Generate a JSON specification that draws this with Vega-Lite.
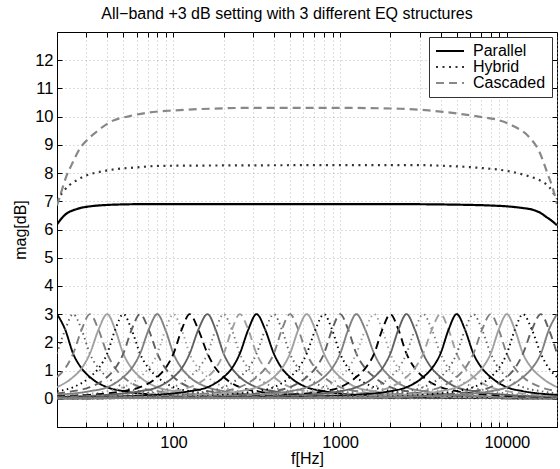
{
  "$schema": "https://vega.github.io/schema/vega-lite/v6.json",
  "width": 500,
  "height": 395,
  "autosize": {"type": "none"},
  "padding": {"left": 57, "top": 32, "right": 3, "bottom": 42},
  "background": "#ffffff",
  "config": {
    "font": "Liberation Sans",
    "view": {"stroke": "#000000", "strokeWidth": 1},
    "axis": {
      "labelFontSize": 16, "titleFontSize": 16, "titleFontWeight": "normal",
      "labelColor": "#000000", "titleColor": "#000000", "tickColor": "#000000",
      "domainColor": "#000000", "gridColor": "#a8a8a8", "gridDash": [1, 3], "gridWidth": 0.8,
      "tickSize": -5, "labelOverlap": false, "labelFlush": false
    }
  },
  "title": {"text": "All−band +3 dB setting with 3 different EQ structures", "fontSize": 16, "fontWeight": "normal", "offset": 10, "dx": -20, "color": "#000000"},
  "datasets": {
    "bells": [
      {"b":0,"f":20,"v":3},{"b":0,"f":22.4,"v":2.45},{"b":0,"f":25,"v":1.6},{"b":0,"f":28.1,"v":1.08},{"b":0,"f":31.5,"v":0.77},{"b":0,"f":40,"v":0.41},{"b":0,"f":50,"v":0.27},{"b":0,"f":80,"v":0.14},{"b":0,"f":160,"v":0.07},{"b":0,"f":500,"v":0.035},{"b":0,"f":20000,"v":0.02},
      {"b":1,"f":20,"v":1.6},{"b":1,"f":22.4,"v":2.45},{"b":1,"f":25,"v":3},{"b":1,"f":28.1,"v":2.45},{"b":1,"f":31.5,"v":1.6},{"b":1,"f":35.5,"v":1.08},{"b":1,"f":40,"v":0.77},{"b":1,"f":50,"v":0.41},{"b":1,"f":63,"v":0.27},{"b":1,"f":100,"v":0.14},{"b":1,"f":200,"v":0.07},{"b":1,"f":630,"v":0.035},{"b":1,"f":20000,"v":0.02},
      {"b":2,"f":20,"v":0.77},{"b":2,"f":22.4,"v":1.08},{"b":2,"f":25,"v":1.6},{"b":2,"f":28.1,"v":2.45},{"b":2,"f":31.5,"v":3},{"b":2,"f":35.5,"v":2.45},{"b":2,"f":40,"v":1.6},{"b":2,"f":44.7,"v":1.08},{"b":2,"f":50,"v":0.77},{"b":2,"f":63,"v":0.41},{"b":2,"f":80,"v":0.27},{"b":2,"f":125,"v":0.14},{"b":2,"f":250,"v":0.07},{"b":2,"f":800,"v":0.035},{"b":2,"f":20000,"v":0.02},
      {"b":3,"f":20,"v":0.41},{"b":3,"f":25,"v":0.77},{"b":3,"f":28.1,"v":1.08},{"b":3,"f":31.5,"v":1.6},{"b":3,"f":35.5,"v":2.45},{"b":3,"f":40,"v":3},{"b":3,"f":44.7,"v":2.45},{"b":3,"f":50,"v":1.6},{"b":3,"f":56.1,"v":1.08},{"b":3,"f":63,"v":0.77},{"b":3,"f":80,"v":0.41},{"b":3,"f":100,"v":0.27},{"b":3,"f":160,"v":0.14},{"b":3,"f":315,"v":0.07},{"b":3,"f":1000,"v":0.035},{"b":3,"f":20000,"v":0.02},
      {"b":4,"f":20,"v":0.27},{"b":4,"f":25,"v":0.41},{"b":4,"f":31.5,"v":0.77},{"b":4,"f":35.5,"v":1.08},{"b":4,"f":40,"v":1.6},{"b":4,"f":44.7,"v":2.45},{"b":4,"f":50,"v":3},{"b":4,"f":56.1,"v":2.45},{"b":4,"f":63,"v":1.6},{"b":4,"f":71,"v":1.08},{"b":4,"f":80,"v":0.77},{"b":4,"f":100,"v":0.41},{"b":4,"f":125,"v":0.27},{"b":4,"f":200,"v":0.14},{"b":4,"f":400,"v":0.07},{"b":4,"f":1250,"v":0.035},{"b":4,"f":20000,"v":0.02},
      {"b":5,"f":20,"v":0.19},{"b":5,"f":25,"v":0.27},{"b":5,"f":31.5,"v":0.41},{"b":5,"f":40,"v":0.77},{"b":5,"f":44.7,"v":1.08},{"b":5,"f":50,"v":1.6},{"b":5,"f":56.1,"v":2.45},{"b":5,"f":63,"v":3},{"b":5,"f":71,"v":2.45},{"b":5,"f":80,"v":1.6},{"b":5,"f":89.4,"v":1.08},{"b":5,"f":100,"v":0.77},{"b":5,"f":125,"v":0.41},{"b":5,"f":160,"v":0.27},{"b":5,"f":250,"v":0.14},{"b":5,"f":500,"v":0.07},{"b":5,"f":1600,"v":0.035},{"b":5,"f":20000,"v":0.02},
      {"b":6,"f":20,"v":0.14},{"b":6,"f":31.5,"v":0.27},{"b":6,"f":40,"v":0.41},{"b":6,"f":50,"v":0.77},{"b":6,"f":56.1,"v":1.08},{"b":6,"f":63,"v":1.6},{"b":6,"f":71,"v":2.45},{"b":6,"f":80,"v":3},{"b":6,"f":89.4,"v":2.45},{"b":6,"f":100,"v":1.6},{"b":6,"f":112,"v":1.08},{"b":6,"f":125,"v":0.77},{"b":6,"f":160,"v":0.41},{"b":6,"f":200,"v":0.27},{"b":6,"f":315,"v":0.14},{"b":6,"f":630,"v":0.07},{"b":6,"f":2000,"v":0.035},{"b":6,"f":20000,"v":0.02},
      {"b":7,"f":20,"v":0.11},{"b":7,"f":25,"v":0.14},{"b":7,"f":40,"v":0.27},{"b":7,"f":50,"v":0.41},{"b":7,"f":63,"v":0.77},{"b":7,"f":71,"v":1.08},{"b":7,"f":80,"v":1.6},{"b":7,"f":89.4,"v":2.45},{"b":7,"f":100,"v":3},{"b":7,"f":112,"v":2.45},{"b":7,"f":125,"v":1.6},{"b":7,"f":141,"v":1.08},{"b":7,"f":160,"v":0.77},{"b":7,"f":200,"v":0.41},{"b":7,"f":250,"v":0.27},{"b":7,"f":400,"v":0.14},{"b":7,"f":800,"v":0.07},{"b":7,"f":2500,"v":0.035},{"b":7,"f":20000,"v":0.02},
      {"b":8,"f":20,"v":0.09},{"b":8,"f":31.5,"v":0.14},{"b":8,"f":50,"v":0.27},{"b":8,"f":63,"v":0.41},{"b":8,"f":80,"v":0.77},{"b":8,"f":89.4,"v":1.08},{"b":8,"f":100,"v":1.6},{"b":8,"f":112,"v":2.45},{"b":8,"f":125,"v":3},{"b":8,"f":141,"v":2.45},{"b":8,"f":160,"v":1.6},{"b":8,"f":179,"v":1.08},{"b":8,"f":200,"v":0.77},{"b":8,"f":250,"v":0.41},{"b":8,"f":315,"v":0.27},{"b":8,"f":500,"v":0.14},{"b":8,"f":1000,"v":0.07},{"b":8,"f":3150,"v":0.035},{"b":8,"f":20000,"v":0.025},
      {"b":9,"f":20,"v":0.07},{"b":9,"f":40,"v":0.14},{"b":9,"f":63,"v":0.27},{"b":9,"f":80,"v":0.41},{"b":9,"f":100,"v":0.77},{"b":9,"f":112,"v":1.08},{"b":9,"f":125,"v":1.6},{"b":9,"f":141,"v":2.45},{"b":9,"f":160,"v":3},{"b":9,"f":179,"v":2.45},{"b":9,"f":200,"v":1.6},{"b":9,"f":224,"v":1.08},{"b":9,"f":250,"v":0.77},{"b":9,"f":315,"v":0.41},{"b":9,"f":400,"v":0.27},{"b":9,"f":630,"v":0.14},{"b":9,"f":1250,"v":0.07},{"b":9,"f":4000,"v":0.035},{"b":9,"f":20000,"v":0.025},
      {"b":10,"f":20,"v":0.06},{"b":10,"f":25,"v":0.07},{"b":10,"f":50,"v":0.14},{"b":10,"f":80,"v":0.27},{"b":10,"f":100,"v":0.41},{"b":10,"f":125,"v":0.77},{"b":10,"f":141,"v":1.08},{"b":10,"f":160,"v":1.6},{"b":10,"f":179,"v":2.45},{"b":10,"f":200,"v":3},{"b":10,"f":224,"v":2.45},{"b":10,"f":250,"v":1.6},{"b":10,"f":281,"v":1.08},{"b":10,"f":315,"v":0.77},{"b":10,"f":400,"v":0.41},{"b":10,"f":500,"v":0.27},{"b":10,"f":800,"v":0.14},{"b":10,"f":1600,"v":0.07},{"b":10,"f":5000,"v":0.035},{"b":10,"f":20000,"v":0.025},
      {"b":11,"f":20,"v":0.05},{"b":11,"f":31.5,"v":0.07},{"b":11,"f":63,"v":0.14},{"b":11,"f":100,"v":0.27},{"b":11,"f":125,"v":0.41},{"b":11,"f":160,"v":0.77},{"b":11,"f":179,"v":1.08},{"b":11,"f":200,"v":1.6},{"b":11,"f":224,"v":2.45},{"b":11,"f":250,"v":3},{"b":11,"f":281,"v":2.45},{"b":11,"f":315,"v":1.6},{"b":11,"f":355,"v":1.08},{"b":11,"f":400,"v":0.77},{"b":11,"f":500,"v":0.41},{"b":11,"f":630,"v":0.27},{"b":11,"f":1000,"v":0.14},{"b":11,"f":2000,"v":0.07},{"b":11,"f":6300,"v":0.035},{"b":11,"f":20000,"v":0.025},
      {"b":12,"f":20,"v":0.045},{"b":12,"f":40,"v":0.07},{"b":12,"f":80,"v":0.14},{"b":12,"f":125,"v":0.27},{"b":12,"f":160,"v":0.41},{"b":12,"f":200,"v":0.77},{"b":12,"f":224,"v":1.08},{"b":12,"f":250,"v":1.6},{"b":12,"f":281,"v":2.45},{"b":12,"f":315,"v":3},{"b":12,"f":355,"v":2.45},{"b":12,"f":400,"v":1.6},{"b":12,"f":447,"v":1.08},{"b":12,"f":500,"v":0.77},{"b":12,"f":630,"v":0.41},{"b":12,"f":800,"v":0.27},{"b":12,"f":1250,"v":0.14},{"b":12,"f":2500,"v":0.07},{"b":12,"f":8000,"v":0.035},{"b":12,"f":20000,"v":0.025},
      {"b":13,"f":20,"v":0.04},{"b":13,"f":50,"v":0.07},{"b":13,"f":100,"v":0.14},{"b":13,"f":160,"v":0.27},{"b":13,"f":200,"v":0.41},{"b":13,"f":250,"v":0.77},{"b":13,"f":281,"v":1.08},{"b":13,"f":315,"v":1.6},{"b":13,"f":355,"v":2.45},{"b":13,"f":400,"v":3},{"b":13,"f":447,"v":2.45},{"b":13,"f":500,"v":1.6},{"b":13,"f":561,"v":1.08},{"b":13,"f":630,"v":0.77},{"b":13,"f":800,"v":0.41},{"b":13,"f":1000,"v":0.27},{"b":13,"f":1600,"v":0.14},{"b":13,"f":3150,"v":0.07},{"b":13,"f":10000,"v":0.035},{"b":13,"f":20000,"v":0.03},
      {"b":14,"f":20,"v":0.035},{"b":14,"f":63,"v":0.07},{"b":14,"f":125,"v":0.14},{"b":14,"f":200,"v":0.27},{"b":14,"f":250,"v":0.41},{"b":14,"f":315,"v":0.77},{"b":14,"f":355,"v":1.08},{"b":14,"f":400,"v":1.6},{"b":14,"f":447,"v":2.45},{"b":14,"f":500,"v":3},{"b":14,"f":561,"v":2.45},{"b":14,"f":630,"v":1.6},{"b":14,"f":710,"v":1.08},{"b":14,"f":800,"v":0.77},{"b":14,"f":1000,"v":0.41},{"b":14,"f":1250,"v":0.27},{"b":14,"f":2000,"v":0.14},{"b":14,"f":4000,"v":0.07},{"b":14,"f":12500,"v":0.035},{"b":14,"f":20000,"v":0.03},
      {"b":15,"f":20,"v":0.03},{"b":15,"f":25,"v":0.035},{"b":15,"f":80,"v":0.07},{"b":15,"f":160,"v":0.14},{"b":15,"f":250,"v":0.27},{"b":15,"f":315,"v":0.41},{"b":15,"f":400,"v":0.77},{"b":15,"f":447,"v":1.08},{"b":15,"f":500,"v":1.6},{"b":15,"f":561,"v":2.45},{"b":15,"f":630,"v":3},{"b":15,"f":710,"v":2.45},{"b":15,"f":800,"v":1.6},{"b":15,"f":894,"v":1.08},{"b":15,"f":1000,"v":0.77},{"b":15,"f":1250,"v":0.41},{"b":15,"f":1600,"v":0.27},{"b":15,"f":2500,"v":0.14},{"b":15,"f":5000,"v":0.07},{"b":15,"f":16000,"v":0.035},{"b":15,"f":20000,"v":0.03},
      {"b":16,"f":20,"v":0.03},{"b":16,"f":31.5,"v":0.035},{"b":16,"f":100,"v":0.07},{"b":16,"f":200,"v":0.14},{"b":16,"f":315,"v":0.27},{"b":16,"f":400,"v":0.41},{"b":16,"f":500,"v":0.77},{"b":16,"f":561,"v":1.08},{"b":16,"f":630,"v":1.6},{"b":16,"f":710,"v":2.45},{"b":16,"f":800,"v":3},{"b":16,"f":894,"v":2.45},{"b":16,"f":1000,"v":1.6},{"b":16,"f":1118,"v":1.08},{"b":16,"f":1250,"v":0.77},{"b":16,"f":1600,"v":0.41},{"b":16,"f":2000,"v":0.27},{"b":16,"f":3150,"v":0.14},{"b":16,"f":6300,"v":0.07},{"b":16,"f":20000,"v":0.035},
      {"b":17,"f":20,"v":0.03},{"b":17,"f":40,"v":0.035},{"b":17,"f":125,"v":0.07},{"b":17,"f":250,"v":0.14},{"b":17,"f":400,"v":0.27},{"b":17,"f":500,"v":0.41},{"b":17,"f":630,"v":0.77},{"b":17,"f":710,"v":1.08},{"b":17,"f":800,"v":1.6},{"b":17,"f":894,"v":2.45},{"b":17,"f":1000,"v":3},{"b":17,"f":1118,"v":2.45},{"b":17,"f":1250,"v":1.6},{"b":17,"f":1414,"v":1.08},{"b":17,"f":1600,"v":0.77},{"b":17,"f":2000,"v":0.41},{"b":17,"f":2500,"v":0.27},{"b":17,"f":4000,"v":0.14},{"b":17,"f":8000,"v":0.07},{"b":17,"f":20000,"v":0.04},
      {"b":18,"f":20,"v":0.025},{"b":18,"f":50,"v":0.035},{"b":18,"f":160,"v":0.07},{"b":18,"f":315,"v":0.14},{"b":18,"f":500,"v":0.27},{"b":18,"f":630,"v":0.41},{"b":18,"f":800,"v":0.77},{"b":18,"f":894,"v":1.08},{"b":18,"f":1000,"v":1.6},{"b":18,"f":1118,"v":2.45},{"b":18,"f":1250,"v":3},{"b":18,"f":1414,"v":2.45},{"b":18,"f":1600,"v":1.6},{"b":18,"f":1789,"v":1.08},{"b":18,"f":2000,"v":0.77},{"b":18,"f":2500,"v":0.41},{"b":18,"f":3150,"v":0.27},{"b":18,"f":5000,"v":0.14},{"b":18,"f":10000,"v":0.07},{"b":18,"f":20000,"v":0.045},
      {"b":19,"f":20,"v":0.025},{"b":19,"f":63,"v":0.035},{"b":19,"f":200,"v":0.07},{"b":19,"f":400,"v":0.14},{"b":19,"f":630,"v":0.27},{"b":19,"f":800,"v":0.41},{"b":19,"f":1000,"v":0.77},{"b":19,"f":1118,"v":1.08},{"b":19,"f":1250,"v":1.6},{"b":19,"f":1414,"v":2.45},{"b":19,"f":1600,"v":3},{"b":19,"f":1789,"v":2.45},{"b":19,"f":2000,"v":1.6},{"b":19,"f":2236,"v":1.08},{"b":19,"f":2500,"v":0.77},{"b":19,"f":3150,"v":0.41},{"b":19,"f":4000,"v":0.27},{"b":19,"f":6300,"v":0.14},{"b":19,"f":12500,"v":0.07},{"b":19,"f":20000,"v":0.05},
      {"b":20,"f":20,"v":0.025},{"b":20,"f":80,"v":0.035},{"b":20,"f":250,"v":0.07},{"b":20,"f":500,"v":0.14},{"b":20,"f":800,"v":0.27},{"b":20,"f":1000,"v":0.41},{"b":20,"f":1250,"v":0.77},{"b":20,"f":1414,"v":1.08},{"b":20,"f":1600,"v":1.6},{"b":20,"f":1789,"v":2.45},{"b":20,"f":2000,"v":3},{"b":20,"f":2236,"v":2.45},{"b":20,"f":2500,"v":1.6},{"b":20,"f":2806,"v":1.08},{"b":20,"f":3150,"v":0.77},{"b":20,"f":4000,"v":0.41},{"b":20,"f":5000,"v":0.27},{"b":20,"f":8000,"v":0.14},{"b":20,"f":16000,"v":0.07},{"b":20,"f":20000,"v":0.06},
      {"b":21,"f":20,"v":0.025},{"b":21,"f":100,"v":0.035},{"b":21,"f":315,"v":0.07},{"b":21,"f":630,"v":0.14},{"b":21,"f":1000,"v":0.27},{"b":21,"f":1250,"v":0.41},{"b":21,"f":1600,"v":0.77},{"b":21,"f":1789,"v":1.08},{"b":21,"f":2000,"v":1.6},{"b":21,"f":2236,"v":2.45},{"b":21,"f":2500,"v":3},{"b":21,"f":2806,"v":2.45},{"b":21,"f":3150,"v":1.6},{"b":21,"f":3550,"v":1.08},{"b":21,"f":4000,"v":0.77},{"b":21,"f":5000,"v":0.41},{"b":21,"f":6300,"v":0.27},{"b":21,"f":10000,"v":0.14},{"b":21,"f":20000,"v":0.07},
      {"b":22,"f":20,"v":0.025},{"b":22,"f":125,"v":0.035},{"b":22,"f":400,"v":0.07},{"b":22,"f":800,"v":0.14},{"b":22,"f":1250,"v":0.27},{"b":22,"f":1600,"v":0.41},{"b":22,"f":2000,"v":0.77},{"b":22,"f":2236,"v":1.08},{"b":22,"f":2500,"v":1.6},{"b":22,"f":2806,"v":2.45},{"b":22,"f":3150,"v":3},{"b":22,"f":3550,"v":2.45},{"b":22,"f":4000,"v":1.6},{"b":22,"f":4472,"v":1.08},{"b":22,"f":5000,"v":0.77},{"b":22,"f":6300,"v":0.41},{"b":22,"f":8000,"v":0.27},{"b":22,"f":12500,"v":0.14},{"b":22,"f":20000,"v":0.09},
      {"b":23,"f":20,"v":0.02},{"b":23,"f":160,"v":0.035},{"b":23,"f":500,"v":0.07},{"b":23,"f":1000,"v":0.14},{"b":23,"f":1600,"v":0.27},{"b":23,"f":2000,"v":0.41},{"b":23,"f":2500,"v":0.77},{"b":23,"f":2806,"v":1.08},{"b":23,"f":3150,"v":1.6},{"b":23,"f":3550,"v":2.45},{"b":23,"f":4000,"v":3},{"b":23,"f":4472,"v":2.45},{"b":23,"f":5000,"v":1.6},{"b":23,"f":5612,"v":1.08},{"b":23,"f":6300,"v":0.77},{"b":23,"f":8000,"v":0.41},{"b":23,"f":10000,"v":0.27},{"b":23,"f":16000,"v":0.14},{"b":23,"f":20000,"v":0.11},
      {"b":24,"f":20,"v":0.02},{"b":24,"f":200,"v":0.035},{"b":24,"f":630,"v":0.07},{"b":24,"f":1250,"v":0.14},{"b":24,"f":2000,"v":0.27},{"b":24,"f":2500,"v":0.41},{"b":24,"f":3150,"v":0.77},{"b":24,"f":3550,"v":1.08},{"b":24,"f":4000,"v":1.6},{"b":24,"f":4472,"v":2.45},{"b":24,"f":5000,"v":3},{"b":24,"f":5612,"v":2.45},{"b":24,"f":6300,"v":1.6},{"b":24,"f":7100,"v":1.08},{"b":24,"f":8000,"v":0.77},{"b":24,"f":10000,"v":0.41},{"b":24,"f":12500,"v":0.27},{"b":24,"f":20000,"v":0.14},
      {"b":25,"f":20,"v":0.02},{"b":25,"f":250,"v":0.035},{"b":25,"f":800,"v":0.07},{"b":25,"f":1600,"v":0.14},{"b":25,"f":2500,"v":0.27},{"b":25,"f":3150,"v":0.41},{"b":25,"f":4000,"v":0.77},{"b":25,"f":4472,"v":1.08},{"b":25,"f":5000,"v":1.6},{"b":25,"f":5612,"v":2.45},{"b":25,"f":6300,"v":3},{"b":25,"f":7100,"v":2.45},{"b":25,"f":8000,"v":1.6},{"b":25,"f":8944,"v":1.08},{"b":25,"f":10000,"v":0.77},{"b":25,"f":12500,"v":0.41},{"b":25,"f":16000,"v":0.27},{"b":25,"f":20000,"v":0.19},
      {"b":26,"f":20,"v":0.02},{"b":26,"f":315,"v":0.035},{"b":26,"f":1000,"v":0.07},{"b":26,"f":2000,"v":0.14},{"b":26,"f":3150,"v":0.27},{"b":26,"f":4000,"v":0.41},{"b":26,"f":5000,"v":0.77},{"b":26,"f":5612,"v":1.08},{"b":26,"f":6300,"v":1.6},{"b":26,"f":7100,"v":2.45},{"b":26,"f":8000,"v":3},{"b":26,"f":8944,"v":2.45},{"b":26,"f":10000,"v":1.6},{"b":26,"f":11180,"v":1.08},{"b":26,"f":12500,"v":0.77},{"b":26,"f":16000,"v":0.41},{"b":26,"f":20000,"v":0.27},
      {"b":27,"f":20,"v":0.02},{"b":27,"f":400,"v":0.035},{"b":27,"f":1250,"v":0.07},{"b":27,"f":2500,"v":0.14},{"b":27,"f":4000,"v":0.27},{"b":27,"f":5000,"v":0.41},{"b":27,"f":6300,"v":0.77},{"b":27,"f":7100,"v":1.08},{"b":27,"f":8000,"v":1.6},{"b":27,"f":8944,"v":2.45},{"b":27,"f":10000,"v":3},{"b":27,"f":11180,"v":2.45},{"b":27,"f":12500,"v":1.6},{"b":27,"f":14142,"v":1.08},{"b":27,"f":16000,"v":0.77},{"b":27,"f":20000,"v":0.41},
      {"b":28,"f":20,"v":0.02},{"b":28,"f":500,"v":0.035},{"b":28,"f":1600,"v":0.07},{"b":28,"f":3150,"v":0.14},{"b":28,"f":5000,"v":0.27},{"b":28,"f":6300,"v":0.41},{"b":28,"f":8000,"v":0.77},{"b":28,"f":8944,"v":1.08},{"b":28,"f":10000,"v":1.6},{"b":28,"f":11180,"v":2.45},{"b":28,"f":12500,"v":3},{"b":28,"f":14142,"v":2.45},{"b":28,"f":16000,"v":1.6},{"b":28,"f":17889,"v":1.08},{"b":28,"f":20000,"v":0.77},
      {"b":29,"f":20,"v":0.02},{"b":29,"f":630,"v":0.035},{"b":29,"f":2000,"v":0.07},{"b":29,"f":4000,"v":0.14},{"b":29,"f":6300,"v":0.27},{"b":29,"f":8000,"v":0.41},{"b":29,"f":10000,"v":0.77},{"b":29,"f":11180,"v":1.08},{"b":29,"f":12500,"v":1.6},{"b":29,"f":14142,"v":2.45},{"b":29,"f":16000,"v":3},{"b":29,"f":17889,"v":2.45},{"b":29,"f":20000,"v":1.6},
      {"b":30,"f":20,"v":0.02},{"b":30,"f":800,"v":0.035},{"b":30,"f":2500,"v":0.07},{"b":30,"f":5000,"v":0.14},{"b":30,"f":8000,"v":0.27},{"b":30,"f":10000,"v":0.41},{"b":30,"f":12500,"v":0.77},{"b":30,"f":14142,"v":1.08},{"b":30,"f":16000,"v":1.6},{"b":30,"f":17889,"v":2.45},{"b":30,"f":20000,"v":3}
    ],
    "main": [
      {"s":"Parallel","f":20,"v":6.18},{"s":"Parallel","f":21.5,"v":6.42},{"s":"Parallel","f":23,"v":6.58},{"s":"Parallel","f":25,"v":6.68},{"s":"Parallel","f":28,"v":6.77},{"s":"Parallel","f":31.5,"v":6.82},{"s":"Parallel","f":40,"v":6.87},{"s":"Parallel","f":50,"v":6.89},{"s":"Parallel","f":70,"v":6.9},{"s":"Parallel","f":200,"v":6.9},{"s":"Parallel","f":2000,"v":6.9},{"s":"Parallel","f":5000,"v":6.88},{"s":"Parallel","f":8000,"v":6.85},{"s":"Parallel","f":10000,"v":6.82},{"s":"Parallel","f":12500,"v":6.76},{"s":"Parallel","f":14300,"v":6.7},{"s":"Parallel","f":16000,"v":6.58},{"s":"Parallel","f":17200,"v":6.45},{"s":"Parallel","f":18500,"v":6.32},{"s":"Parallel","f":20000,"v":6.15},
      {"s":"Hybrid","f":20,"v":7.04},{"s":"Hybrid","f":21.5,"v":7.3},{"s":"Hybrid","f":23.7,"v":7.57},{"s":"Hybrid","f":26,"v":7.73},{"s":"Hybrid","f":28.5,"v":7.86},{"s":"Hybrid","f":32,"v":7.97},{"s":"Hybrid","f":36,"v":8.04},{"s":"Hybrid","f":45,"v":8.14},{"s":"Hybrid","f":60,"v":8.2},{"s":"Hybrid","f":72,"v":8.24},{"s":"Hybrid","f":100,"v":8.26},{"s":"Hybrid","f":1000,"v":8.28},{"s":"Hybrid","f":3000,"v":8.28},{"s":"Hybrid","f":4500,"v":8.25},{"s":"Hybrid","f":5700,"v":8.22},{"s":"Hybrid","f":7000,"v":8.18},{"s":"Hybrid","f":9000,"v":8.12},{"s":"Hybrid","f":11000,"v":8.03},{"s":"Hybrid","f":13000,"v":7.92},{"s":"Hybrid","f":15000,"v":7.8},{"s":"Hybrid","f":16500,"v":7.68},{"s":"Hybrid","f":18000,"v":7.5},{"s":"Hybrid","f":19000,"v":7.3},{"s":"Hybrid","f":20000,"v":7.08},
      {"s":"Cascaded","f":20,"v":6.85},{"s":"Cascaded","f":21.4,"v":7.4},{"s":"Cascaded","f":22.8,"v":7.9},{"s":"Cascaded","f":24.5,"v":8.3},{"s":"Cascaded","f":27.3,"v":8.85},{"s":"Cascaded","f":31.3,"v":9.25},{"s":"Cascaded","f":36,"v":9.55},{"s":"Cascaded","f":43,"v":9.85},{"s":"Cascaded","f":54.5,"v":10.02},{"s":"Cascaded","f":72,"v":10.15},{"s":"Cascaded","f":100,"v":10.22},{"s":"Cascaded","f":164,"v":10.28},{"s":"Cascaded","f":286,"v":10.31},{"s":"Cascaded","f":1000,"v":10.31},{"s":"Cascaded","f":2300,"v":10.28},{"s":"Cascaded","f":3400,"v":10.22},{"s":"Cascaded","f":5200,"v":10.1},{"s":"Cascaded","f":6800,"v":10.0},{"s":"Cascaded","f":9000,"v":9.87},{"s":"Cascaded","f":11100,"v":9.65},{"s":"Cascaded","f":13600,"v":9.28},{"s":"Cascaded","f":15700,"v":8.75},{"s":"Cascaded","f":17500,"v":8.0},{"s":"Cascaded","f":18900,"v":7.45},{"s":"Cascaded","f":20000,"v":6.9}
    ]
  },
  "layer": [
    {
      "data": {"name": "bells"},
      "mark": {"type": "line", "interpolate": "monotone", "strokeWidth": 1.9, "clip": true},
      "encoding": {
        "x": {"field": "f", "type": "quantitative",
          "scale": {"type": "log", "domain": [20, 20000], "nice": false},
          "axis": {"orient": "bottom", "title": "f[Hz]", "grid": true,
            "values": [20,30,40,50,60,70,80,90,100,200,300,400,500,600,700,800,900,1000,2000,3000,4000,5000,6000,7000,8000,9000,10000,20000],
            "labelExpr": "(datum.value == 100 || datum.value == 1000 || datum.value == 10000) ? datum.value + '' : ''",
            "labelFontSize": 16.5, "titleFontSize": 16, "labelPadding": 12, "titlePadding": 0}},
        "y": {"field": "v", "type": "quantitative",
          "scale": {"domain": [-1, 13], "nice": false, "zero": false},
          "axis": {"orient": "left", "title": "mag[dB]", "grid": true,
            "values": [0,1,2,3,4,5,6,7,8,9,10,11,12], "labelFontSize": 16.5, "titleFontSize": 16, "labelPadding": 9, "titlePadding": 6}},
        "color": {"field": "b", "type": "nominal", "legend": null,
          "scale": {"domain": [0,1,2,3,4,5,6,7,8,9,10,11,12,13,14,15,16,17,18,19,20,21,22,23,24,25,26,27,28,29,30],
            "range": ["#000000","#606060","#808080","#a0a0a0","#000000","#606060","#808080","#a0a0a0","#000000","#606060","#808080","#a0a0a0","#000000","#606060","#808080","#a0a0a0","#000000","#606060","#808080","#a0a0a0","#000000","#606060","#808080","#a0a0a0","#000000","#606060","#808080","#a0a0a0","#000000","#606060","#808080"]}},
        "strokeDash": {"field": "b", "type": "nominal", "legend": null,
          "scale": {"domain": [0,1,2,3,4,5,6,7,8,9,10,11,12,13,14,15,16,17,18,19,20,21,22,23,24,25,26,27,28,29,30],
            "range": [[1,0],[1.5,3.5],[8,5],[1,0],[1.5,3.5],[8,5],[1,0],[1.5,3.5],[8,5],[1,0],[1.5,3.5],[8,5],[1,0],[1.5,3.5],[8,5],[1,0],[1.5,3.5],[8,5],[1,0],[1.5,3.5],[8,5],[1,0],[1.5,3.5],[8,5],[1,0],[1.5,3.5],[8,5],[1,0],[1.5,3.5],[8,5],[1,0]]}}
      }
    },
    {
      "data": {"name": "main"},
      "mark": {"type": "line", "interpolate": "monotone", "strokeWidth": 2.2, "clip": true},
      "encoding": {
        "x": {"field": "f", "type": "quantitative",
          "scale": {"type": "log", "domain": [20, 20000], "nice": false},
          "axis": {"orient": "top", "title": null, "labels": false, "grid": false, "domain": false,
            "values": [20,30,40,50,60,70,80,90,100,200,300,400,500,600,700,800,900,1000,2000,3000,4000,5000,6000,7000,8000,9000,10000,20000]}},
        "y": {"field": "v", "type": "quantitative",
          "scale": {"domain": [-1, 13], "nice": false, "zero": false},
          "axis": {"orient": "right", "title": null, "labels": false, "grid": false, "domain": false,
            "values": [0,1,2,3,4,5,6,7,8,9,10,11,12]}},
        "color": {"field": "s", "type": "nominal",
          "scale": {"domain": ["Parallel", "Hybrid", "Cascaded"], "range": ["#000000", "#333333", "#888888"]},
          "legend": {"orient": "none", "legendX": 372, "legendY": 5, "title": null,
            "symbolType": "M-1,0H3", "symbolSize": 196, "symbolStrokeWidth": 2, "symbolFillColor": "transparent",
            "labelFontSize": 16, "labelColor": "#000000", "labelOffset": 22, "padding": 6,
            "strokeColor": "#333333", "fillColor": "#ffffff", "rowPadding": 0}},
        "strokeDash": {"field": "s", "type": "nominal",
          "scale": {"domain": ["Parallel", "Hybrid", "Cascaded"], "range": [[1, 0], [2, 4.5], [8, 5]]}}
      }
    }
  ],
  "resolve": {
    "scale": {"color": "independent", "strokeDash": "independent"},
    "axis": {"x": "independent", "y": "independent"}
  }
}
